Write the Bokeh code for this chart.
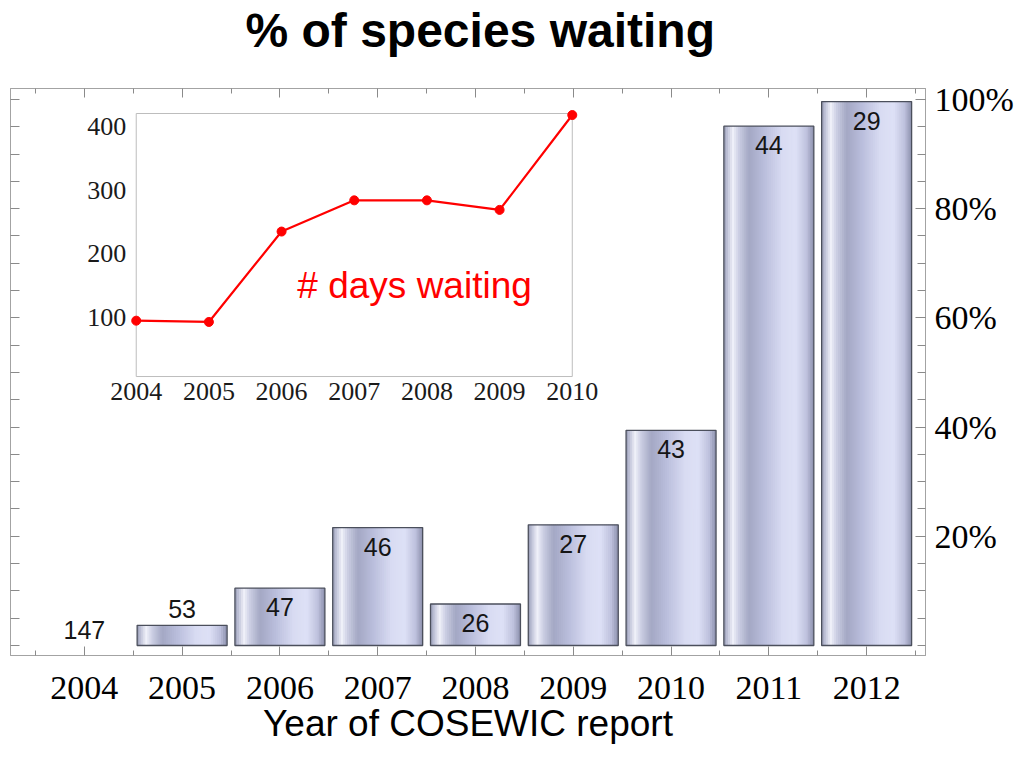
import numpy as np
from bokeh.plotting import figure
from bokeh.models import (Range1d, LinearAxis, FixedTicker, ColumnDataSource,
                          Label, CustomJSTickFormatter)
from bokeh.core.properties import value
from bokeh.embed import file_html
from bokeh.resources import INLINE

# ---------------- data ----------------
years = [2004, 2005, 2006, 2007, 2008, 2009, 2010, 2011, 2012]
pct_waiting = [0.0, 3.7, 10.5, 21.6, 7.6, 22.1, 39.4, 95.1, 99.6]
n_species = [147, 53, 47, 46, 26, 27, 43, 44, 29]

inset_years = [2004, 2005, 2006, 2007, 2008, 2009, 2010]
days_waiting = [95, 93, 235, 284, 284, 269, 418]

pct_ticks = [20, 40, 60, 80, 100]
pct_labels = ["20%", "40%", "60%", "80%", "100%"]
inset_day_ticks = [100, 200, 300, 400]
inset_day_labels = ["100", "200", "300", "400"]

# ---------------- layout (pixels) ----------------
W, H = 1016, 746
FL, FT, FW, FH = 10, 88, 917, 567          # frame left/top/width/height in figure px
bar_width = 0.92

x_lo, x_hi = 2003.245, 2012.602
y_lo, y_hi = -1.83, 102.0

# inset placement in frame pixels, and inset data limits
in_px_left, in_px_right = 126, 563         # x of 2004 and 2010 (from frame left)
in_px_v100, in_px_v400 = 229, 38           # y of 100 and 400 (from frame top)
inset_xlim = (2004, 2010)
inset_ylim = (7.3, 420.4)

ppx = (in_px_right - in_px_left) / (inset_xlim[1] - inset_xlim[0])
ix0 = inset_xlim[0] - in_px_left / ppx
ix1 = ix0 + FW / ppx
ppy = (in_px_v100 - in_px_v400) / 300.0
v0_px = in_px_v100 + 100 * ppy
iy1 = v0_px / ppy
iy0 = iy1 - FH / ppy

SERIF = value("Liberation Serif")
SANS = value("Liberation Sans")
FRAME = "#a3a3a3"
TICK = "#8a8a8a"

p = figure(width=W, height=H, output_backend="svg", toolbar_location=None,
           x_range=Range1d(x_lo, x_hi), y_range=Range1d(y_lo, y_hi),
           x_axis_location=None, y_axis_location=None,
           min_border_left=FL, min_border_right=W - FL - FW,
           min_border_top=FT, min_border_bottom=H - FT - FH)
p.xgrid.visible = False
p.ygrid.visible = False
p.outline_line_color = FRAME
p.outline_line_width = 1
p.background_fill_color = "white"
p.border_fill_color = "white"

p.extra_x_ranges = {"ix": Range1d(ix0, ix1)}
p.extra_y_ranges = {"iy": Range1d(iy0, iy1)}

# ---------------- title ----------------
p.title.text = "% of species waiting"
p.title.align = "left"
p.title.offset = 235
p.title.text_font = "Liberation Sans"
p.title.text_font_size = "48px"
p.title.text_font_style = "bold"
p.title.text_color = "black"
p.title.standoff = 2

# ---------------- axes ----------------
half_years = [y - 0.5 for y in years] + [years[-1] + 0.5]
xt = FixedTicker(ticks=years, minor_ticks=half_years)
blank = CustomJSTickFormatter(code="return ''")


def style_axis(ax, tin=9, min_in=5):
    ax.major_tick_in = tin
    ax.major_tick_out = 0
    ax.minor_tick_in = min_in
    ax.minor_tick_out = 0
    ax.major_tick_line_color = TICK
    ax.minor_tick_line_color = TICK
    ax.axis_line_color = FRAME


xb = LinearAxis(ticker=xt, major_label_overrides={y: str(y) for y in years})
style_axis(xb)
xb.major_label_text_font = "Liberation Serif"
xb.major_label_text_font_size = "34px"
xb.major_label_text_color = "black"
xb.major_label_standoff = 21
xb.axis_label = "Year of COSEWIC report"
xb.axis_label_text_font = "Liberation Sans"
xb.axis_label_text_font_size = "37px"
xb.axis_label_text_font_style = "normal"
xb.axis_label_text_color = "black"
xb.axis_label_standoff = 1
p.add_layout(xb, "below")

# top frame ticks; its (blank) label only keeps the title clear of the frame
xa = LinearAxis(ticker=xt, formatter=blank)
style_axis(xa)
xa.major_label_standoff = 0
xa.major_label_text_font_size = "0px"
xa.axis_label = " "
xa.axis_label_text_font_size = "20px"
xa.axis_label_standoff = 6
p.add_layout(xa, "above")

yt = FixedTicker(ticks=pct_ticks, minor_ticks=list(range(0, 101, 5)))
yr = LinearAxis(ticker=yt, major_label_overrides=dict(zip(pct_ticks, pct_labels)))
style_axis(yr, tin=10, min_in=8)
yr.major_label_text_font = "Liberation Serif"
yr.major_label_text_font_size = "34px"
yr.major_label_text_color = "black"
yr.major_label_standoff = 9
p.add_layout(yr, "right")

yl = LinearAxis(ticker=FixedTicker(ticks=list(range(0, 101, 5))), formatter=blank)
style_axis(yl, tin=9)
yl.major_label_standoff = 0
yl.major_label_text_font_size = "0px"
p.add_layout(yl, "left")

# ---------------- bars with cylinder shading ----------------
stop_t = [0.00, 0.04, 0.10, 0.17, 0.28, 0.45, 0.65, 0.80, 0.92, 1.00]
stop_rgb = np.array([
    (150, 154, 180), (192, 195, 216), (240, 241, 250), (202, 205, 226),
    (164, 168, 196), (186, 190, 220), (216, 219, 242), (222, 225, 246),
    (190, 193, 221), (140, 144, 172)], dtype=float)
n_strips = 44

L, R, T, C = [], [], [], []
for yr_, v in zip(years, pct_waiting):
    if v <= 0:
        continue
    x0 = yr_ - bar_width / 2
    sw = bar_width / n_strips
    for k in range(n_strips):
        t = (k + 0.5) / n_strips
        rgb = [np.interp(t, stop_t, stop_rgb[:, c]) for c in range(3)]
        L.append(x0 + k * sw)
        R.append(x0 + (k + 1) * sw + (0.6 * sw if k < n_strips - 1 else 0))
        T.append(v)
        C.append("#%02x%02x%02x" % tuple(int(round(c)) for c in rgb))
p.quad(left=L, right=R, bottom=0, top=T, fill_color=C, line_color=None)

bars = ColumnDataSource(dict(
    x=[y for y, v in zip(years, pct_waiting) if v > 0],
    top=[v for v in pct_waiting if v > 0]))
p.vbar(x="x", top="top", bottom=0, width=bar_width, source=bars,
       fill_color=None, line_color="#4b4f5c", line_width=1.3)

# count labels
inside = ColumnDataSource(dict(
    x=[y for y, v in zip(years, pct_waiting) if v >= 5],
    y=[v for v in pct_waiting if v >= 5],
    t=[str(n) for n, v in zip(n_species, pct_waiting) if v >= 5]))
above = ColumnDataSource(dict(
    x=[y for y, v in zip(years, pct_waiting) if v < 5],
    y=[v for v in pct_waiting if v < 5],
    t=[str(n) for n, v in zip(n_species, pct_waiting) if v < 5]))
p.text(x="x", y="y", text="t", source=inside, text_font=SANS, text_font_size="25px",
       text_align="center", text_baseline="top", y_offset=10, text_color="#151515")
p.text(x="x", y="y", text="t", source=above, text_font=SANS, text_font_size="25px",
       text_align="center", text_baseline="bottom", y_offset=-7, text_color="#151515")

# ---------------- inset: days waiting ----------------
p.quad(left=[inset_xlim[0]], right=[inset_xlim[1]], bottom=[inset_ylim[0]], top=[inset_ylim[1]],
       x_range_name="ix", y_range_name="iy",
       fill_color="white", line_color="#bdbdbd", line_width=1)
p.line(x=inset_years, y=days_waiting, x_range_name="ix", y_range_name="iy",
       line_color="#ff0000", line_width=2.2)
p.scatter(x=inset_years, y=days_waiting, x_range_name="ix", y_range_name="iy",
          size=9, fill_color="#ff0000", line_color="#ff0000")

p.text(x=[inset_xlim[0]] * len(inset_day_ticks), y=inset_day_ticks, text=inset_day_labels,
       x_range_name="ix", y_range_name="iy", text_font=SERIF, text_font_size="26px",
       text_align="right", text_baseline="middle", x_offset=-10, text_color="#1a1a1a")
p.text(x=inset_years, y=[inset_ylim[0]] * len(inset_years), text=[str(y) for y in inset_years],
       x_range_name="ix", y_range_name="iy", text_font=SERIF, text_font_size="26px",
       text_align="center", text_baseline="top", y_offset=6, text_color="#1a1a1a")

p.add_layout(Label(x=2007.83, y=150, x_range_name="ix", y_range_name="iy",
                   text="# days waiting", text_font="Liberation Sans", text_font_size="37px",
                   text_color="#ff0000", text_align="center", text_baseline="middle"))

open("out.html", "w").write(file_html(p, INLINE))
